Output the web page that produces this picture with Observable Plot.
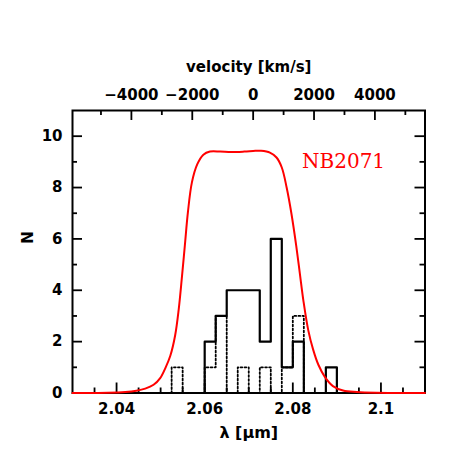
<!DOCTYPE html>
<html>
<head>
<meta charset="utf-8">
<script src="https://cdn.jsdelivr.net/npm/d3@7"></script>
<script src="https://cdn.jsdelivr.net/npm/@observablehq/plot@0.6"></script>
<style>
  html, body { margin: 0; padding: 0; background: #fff; }
  #chart { width: 463px; height: 463px; }
</style>
</head>
<body>
<div id="chart"></div>
<script>
// ---- data ----
const binStarts = [2.0525, 2.055, 2.0575, 2.06, 2.0625, 2.065, 2.0675, 2.07, 2.0725, 2.075, 2.0775, 2.08, 2.0825, 2.085, 2.0875, 2.09];
const binEnd = 2.0925;
const solidCounts  = [0, 0, 0, 2, 3, 4, 4, 4, 2, 6, 1, 2, 0, 0, 1, 0];
const dottedCounts = [1, 0, 0, 1, 3, 0, 1, 0, 1, 0, 1, 3, 0, 0, 0, 0];

const filterLambda = [2.03, 2.038, 2.042, 2.0445, 2.0465, 2.0484, 2.0499, 2.0511, 2.0522, 2.0533, 2.0541, 2.0548, 2.0555, 2.0562, 2.0571, 2.0583, 2.0597, 2.0612, 2.0635, 2.066, 2.069, 2.0715, 2.0728, 2.0748, 2.0763, 2.0775, 2.0786, 2.0797, 2.0808, 2.0816, 2.0824, 2.0835, 2.0846, 2.0858, 2.0873, 2.0891, 2.0914, 2.0945, 2.099, 2.11];
const filterN      = [0, 0.01, 0.04, 0.09, 0.17, 0.32, 0.58, 0.98, 1.45, 2.25, 3.25, 4.45, 5.75, 7.05, 8.20, 8.90, 9.28, 9.40, 9.40, 9.38, 9.40, 9.43, 9.43, 9.36, 9.17, 8.78, 8.00, 6.97, 5.70, 4.65, 3.60, 2.45, 1.70, 1.10, 0.62, 0.27, 0.10, 0.04, 0.01, 0];

const xMajorTicks = [2.04, 2.06, 2.08, 2.1];
const xTickLabels = ["2.04", "2.06", "2.08", "2.1"];
const xMinorTicks = [2.035, 2.045, 2.05, 2.055, 2.065, 2.07, 2.075, 2.085, 2.09, 2.095, 2.105];
const yMajorTicks = [0, 2, 4, 6, 8, 10];
const yMinorTicks = [1, 3, 5, 7, 9];
const velMajorTicks = [-4000, -2000, 0, 2000, 4000];
const velTickLabels = ["\u22124000", "\u22122000", "0", "2000", "4000"];
const velMinorTicks = [-5000, -3000, -1000, 1000, 3000, 5000];
const lambda0 = 2.071;       // NB2071 centre (µm)
const cLight = 299792.458;   // km/s

// ---- derived tables ----
function stepData(counts) {
  const pts = [{x: binStarts[0], y: 0}];
  counts.forEach((c, i) => pts.push({x: binStarts[i], y: c}));
  pts.push({x: binEnd, y: 0});
  return pts;
}
const solidSteps = stepData(solidCounts);
const dottedSteps = stepData(dottedCounts);
const filterCurve = filterLambda.map((l, i) => ({x: l, y: filterN[i]}));
const vToLambda = v => lambda0 * (1 + v / cLight);
const velLabels = velMajorTicks.map((v, i) => ({x: vToLambda(v), label: velTickLabels[i]}));
const xLabels = xMajorTicks.map((x, i) => ({x, label: xTickLabels[i]}));

const W = 463, H = 463;
const mL = 72, mR = 38.5, mT = 110, mB = 70.5;
const plotH = H - mT - mB, plotW = W - mL - mR;
const font = "DejaVu Sans";

const chart = Plot.plot({
  width: W, height: H,
  marginLeft: mL, marginRight: mR, marginTop: mT, marginBottom: mB,
  x: {domain: [2.03, 2.11], axis: null},
  y: {domain: [0, 11], axis: null},
  style: {fontFamily: font, background: "white"},
  marks: [
    // histograms
    Plot.line(dottedSteps, {x: "x", y: "y", curve: "step-after", stroke: "black", strokeWidth: 1.8, strokeDasharray: "1.8,2.2"}),
    Plot.line(solidSteps, {x: "x", y: "y", curve: "step-after", stroke: "black", strokeWidth: 2.2}),
    // frame
    Plot.frame({stroke: "black", strokeWidth: 2}),
    // bottom ticks
    Plot.tickX(xMajorTicks, {x: d => d, insetTop: plotH - 10, stroke: "black", strokeWidth: 1.8}),
    Plot.tickX(xMinorTicks, {x: d => d, insetTop: plotH - 5, stroke: "black", strokeWidth: 1.8}),
    // top (velocity) ticks
    Plot.tickX(velMajorTicks.map(vToLambda), {x: d => d, insetBottom: plotH - 10, stroke: "black", strokeWidth: 1.8}),
    Plot.tickX(velMinorTicks.map(vToLambda), {x: d => d, insetBottom: plotH - 5, stroke: "black", strokeWidth: 1.8}),
    // left / right ticks
    Plot.tickY(yMajorTicks, {y: d => d, insetRight: plotW - 10, stroke: "black", strokeWidth: 1.8}),
    Plot.tickY(yMinorTicks, {y: d => d, insetRight: plotW - 5, stroke: "black", strokeWidth: 1.8}),
    Plot.tickY(yMajorTicks, {y: d => d, insetLeft: plotW - 10, stroke: "black", strokeWidth: 1.8}),
    Plot.tickY(yMinorTicks, {y: d => d, insetLeft: plotW - 5, stroke: "black", strokeWidth: 1.8}),
    // filter curve (drawn over frame)
    Plot.line(filterCurve, {x: "x", y: "y", curve: "catmull-rom", stroke: "#ff0000", strokeWidth: 2}),
    // tick labels
    Plot.text(xLabels, {x: "x", text: "label", frameAnchor: "bottom", dy: 16, lineAnchor: "middle", fontSize: 15, fontWeight: "bold", fill: "black"}),
    Plot.text(velLabels, {x: "x", text: "label", frameAnchor: "top", dy: -15, lineAnchor: "middle", fontSize: 15, fontWeight: "bold", fill: "black"}),
    Plot.text(yMajorTicks, {y: d => d, text: d => String(d), frameAnchor: "left", dx: -10, textAnchor: "end", lineAnchor: "middle", fontSize: 15, fontWeight: "bold", fill: "black"}),
    // axis titles
    Plot.text(["\u03bb [\u03bcm]"], {frameAnchor: "bottom", dy: 40, lineAnchor: "middle", fontSize: 16, fontWeight: "bold", fill: "black"}),
    Plot.text(["velocity [km/s]"], {frameAnchor: "top", dy: -43, lineAnchor: "middle", fontSize: 15, fontWeight: "bold", fill: "black"}),
    Plot.text(["N"], {frameAnchor: "left", dx: -44, dy: -8, rotate: -90, lineAnchor: "middle", fontSize: 15, fontWeight: "bold", fill: "black"}),
    // filter label
    Plot.text(["NB2071"], {frameAnchor: "top-right", dx: -123, dy: 51, textAnchor: "start", lineAnchor: "middle", fontSize: 20, fontFamily: "DejaVu Serif", fill: "#ff0000"})
  ]
});
document.getElementById("chart").appendChild(chart);
</script>
</body>
</html>
